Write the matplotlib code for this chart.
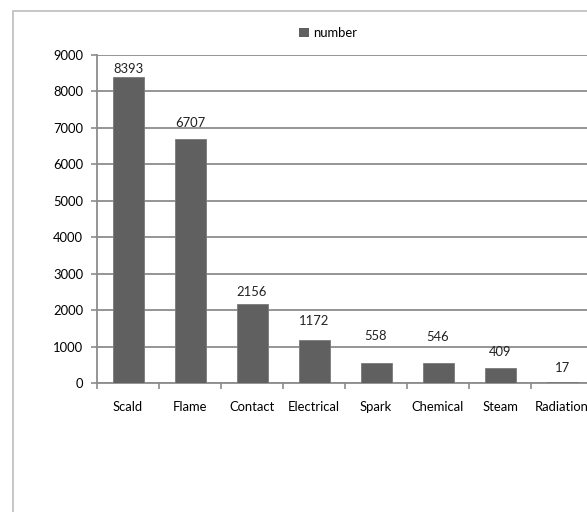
import matplotlib
matplotlib.use("Agg")
import matplotlib.pyplot as plt
from matplotlib.patches import Rectangle, Patch

plt.rcParams['font.family'] = ['Lato', 'DejaVu Sans']

# data
categories = ['Scald', 'Flame', 'Contact', 'Electrical', 'Spark', 'Chemical', 'Steam', 'Radiation']
counts = [8393, 6707, 2156, 1172, 558, 546, 409, 17]
yticks = list(range(0, 9001, 1000))

# labels in the original were nudged by hand, gap above each bar in points
label_gap = [1.5, 7, 4.5, 9.5, 15, 14.5, 7, 6]

bar_color = '#606060'
grid_color = '#8c8c8c'
fs = 9.4

fig = plt.figure(figsize=(5.87, 5.12), dpi=100)

# outer chart border (runs off the right and bottom of the picture)
fig.patches.append(Rectangle((13 / 587, -0.1), 1.0, (512 - 11) / 512 + 0.1,
                             transform=fig.transFigure, fill=False,
                             edgecolor='#bdbdbd', linewidth=1.2))

ax = fig.add_axes([97 / 587, 129 / 512, 496 / 587, 328 / 512])

x = list(range(len(categories)))
bars = ax.bar(x, counts, width=0.5, color=bar_color, edgecolor='#7a7a7a',
              linewidth=0.6, zorder=3)
for xi, v, g in zip(x, counts, label_gap):
    ax.annotate(str(v), xy=(xi, v), xytext=(0, g), textcoords='offset points',
                ha='center', va='bottom', fontsize=fs, color='#222222')

ax.set_xlim(-0.5, len(categories) - 0.5)
ax.set_ylim(0, 9000)
ax.set_yticks(yticks)
ax.set_yticklabels([str(v) for v in yticks], fontsize=fs)
ax.yaxis.grid(True, color=grid_color, linewidth=1.3, zorder=0)

ax.set_xticks(x)
ax.set_xticklabels(categories, fontsize=fs)
ax.tick_params(axis='x', which='major', length=0, pad=13)
ax.set_xticks([i - 0.5 for i in range(len(categories) + 1)], minor=True)
ax.tick_params(axis='x', which='minor', length=4, width=1.2, color=grid_color, direction='out')
ax.tick_params(axis='y', length=4, width=1.2, color=grid_color, pad=6)

for s in ['top', 'right']:
    ax.spines[s].set_visible(False)
for s in ['left', 'bottom']:
    ax.spines[s].set_color(grid_color)
    ax.spines[s].set_linewidth(1.3)

fig.legend(handles=[Patch(facecolor=bar_color, label='number')],
           loc='center', bbox_to_anchor=(328 / 587, 479 / 512),
           bbox_transform=fig.transFigure, frameon=False, fontsize=fs,
           handlelength=0.75, handleheight=0.75, handletextpad=0.3)

fig.savefig('out.png', dpi=100)
